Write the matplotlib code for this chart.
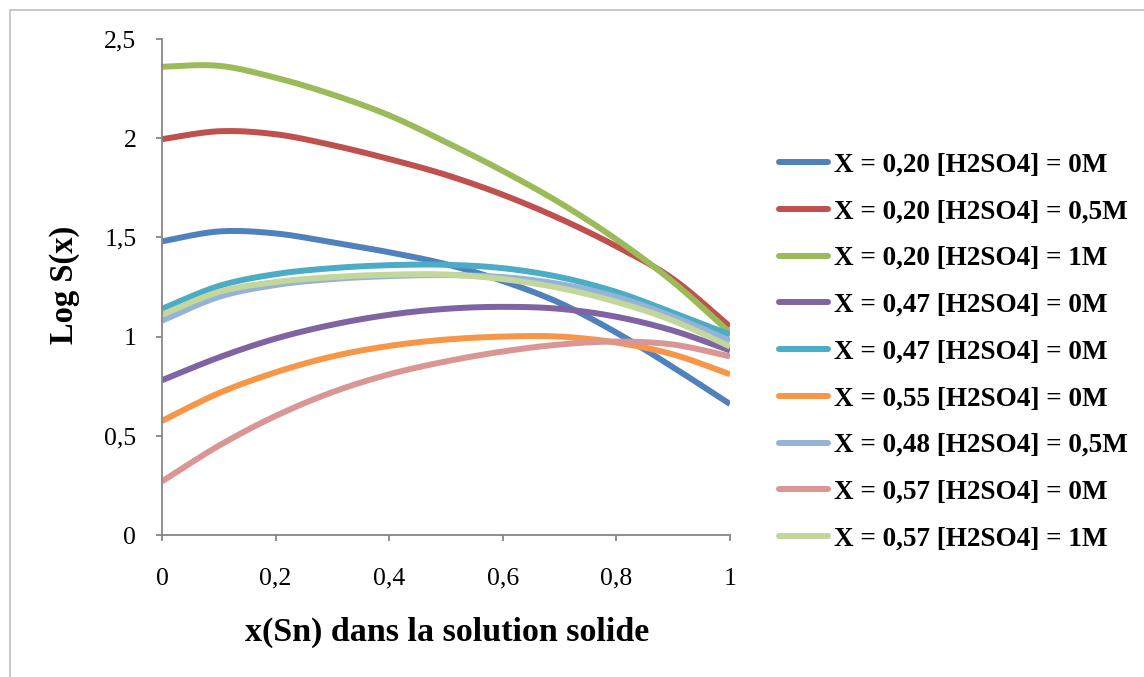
import numpy as np
import matplotlib
matplotlib.use("Agg")
import matplotlib.pyplot as plt
from matplotlib.lines import Line2D
from matplotlib.patches import Rectangle

# Tin mole fraction in the solid solution
x_sn = [0.0, 0.1, 0.2, 0.3, 0.4, 0.5, 0.6, 0.7, 0.8, 0.9, 1.0]

# Log S(x) for each composition / acid concentration
logS_020_0M = [1.48, 1.53, 1.52, 1.475, 1.425, 1.365, 1.28, 1.17, 1.02, 0.845, 0.66]
logS_020_05M = [1.995, 2.035, 2.02, 1.965, 1.895, 1.815, 1.715, 1.595, 1.455, 1.29, 1.05]
logS_020_1M = [2.36, 2.365, 2.305, 2.22, 2.115, 1.98, 1.835, 1.675, 1.49, 1.275, 1.02]
logS_047_0M_a = [0.78, 0.895, 0.99, 1.06, 1.11, 1.14, 1.15, 1.14, 1.10, 1.03, 0.93]
logS_047_0M_b = [1.14, 1.255, 1.315, 1.345, 1.36, 1.362, 1.345, 1.30, 1.225, 1.12, 1.01]
logS_055_0M = [0.575, 0.715, 0.82, 0.90, 0.953, 0.985, 1.0, 1.0, 0.97, 0.91, 0.81]
logS_048_05M = [1.08, 1.20, 1.26, 1.29, 1.305, 1.31, 1.30, 1.265, 1.20, 1.10, 0.98]
logS_057_0M = [0.27, 0.45, 0.60, 0.72, 0.81, 0.875, 0.925, 0.96, 0.975, 0.96, 0.90]
logS_057_1M = [1.11, 1.225, 1.275, 1.30, 1.312, 1.313, 1.29, 1.245, 1.175, 1.08, 0.95]

series_labels = [
    "X = 0,20 [H2SO4] = 0M",
    "X = 0,20 [H2SO4] = 0,5M",
    "X = 0,20 [H2SO4] = 1M",
    "X = 0,47 [H2SO4] = 0M",
    "X = 0,47 [H2SO4] = 0M",
    "X = 0,55 [H2SO4] = 0M",
    "X = 0,48 [H2SO4] = 0,5M",
    "X = 0,57 [H2SO4] = 0M",
    "X = 0,57 [H2SO4] = 1M",
]
series_values = [logS_020_0M, logS_020_05M, logS_020_1M, logS_047_0M_a,
                 logS_047_0M_b, logS_055_0M, logS_048_05M, logS_057_0M,
                 logS_057_1M]
series_colors = ["#4F81BD", "#C0504D", "#9BBB59", "#8064A2", "#4BACC6",
                 "#F79646", "#95B3D7", "#D99694", "#C3D69B"]

x_ticks = [0, 0.2, 0.4, 0.6, 0.8, 1.0]
x_tick_labels = ["0", "0,2", "0,4", "0,6", "0,8", "1"]
y_ticks = [0, 0.5, 1.0, 1.5, 2.0, 2.5]
y_tick_labels = ["0", "0,5", "1", "1,5", "2", "2,5"]


def smooth(xs, ys, n=30):
    """Catmull-Rom curve through the points (smoothed-line rendering)."""
    p = np.column_stack([xs, ys]).astype(float)
    p = np.vstack([p[0], p, p[-1]])
    out = []
    t = np.linspace(0, 1, n, endpoint=False)[:, None]
    for i in range(1, len(p) - 2):
        p0, p1, p2, p3 = p[i - 1], p[i], p[i + 1], p[i + 2]
        seg = 0.5 * ((2 * p1) + (-p0 + p2) * t
                     + (2 * p0 - 5 * p1 + 4 * p2 - p3) * t ** 2
                     + (-p0 + 3 * p1 - 3 * p2 + p3) * t ** 3)
        out.append(seg)
    out.append(p[-2][None, :])
    c = np.vstack(out)
    return c[:, 0], c[:, 1]


W, H = 1144, 677
fig = plt.figure(figsize=(W / 100, H / 100), dpi=100)
fig.patch.set_facecolor("white")

serif = "Liberation Serif"
axis_grey = "#868686"

# outer chart frame
fig.add_artist(Rectangle((10 / W, -0.2), 1.3, 1 - 10 / H + 0.2,
                         transform=fig.transFigure, fill=False,
                         edgecolor="#BFBFBF", linewidth=1.2))

ax = fig.add_axes([162 / W, 1 - 535 / H, (730 - 162) / W, (535 - 39) / H])
lw = 4.3
for vals, col in zip(series_values, series_colors):
    sx, sy = smooth(x_sn, vals)
    ax.plot(sx, sy, color=col, linewidth=lw, solid_capstyle="butt",
            solid_joinstyle="round")

ax.set_xlim(0, 1)
ax.set_ylim(0, 2.5)
ax.set_xticks(x_ticks)
ax.set_xticklabels(x_tick_labels, fontfamily=serif, fontsize=18.5)
ax.set_yticks(y_ticks)
ax.set_yticklabels(y_tick_labels, fontfamily=serif, fontsize=18.5)
for s in ["top", "right"]:
    ax.spines[s].set_visible(False)
for s in ["left", "bottom"]:
    ax.spines[s].set_color(axis_grey)
    ax.spines[s].set_linewidth(1.3)
ax.tick_params(axis="both", direction="out", length=4.5, width=1.3,
               color=axis_grey, labelcolor="black")
ax.tick_params(axis="x", pad=19)
ax.tick_params(axis="y", pad=14)

fig.text(65 / W, 1 - 285 / H, "Log S(x)", rotation=90, ha="center",
         va="center", fontfamily=serif, fontweight="bold", fontsize=23.5)
fig.text(447 / W, 1 - 632 / H, "x(Sn) dans la solution solide",
         ha="center", va="center", fontfamily=serif, fontweight="bold",
         fontsize=24.5)

# legend entries
row0, step = 162, 46.75
for i, (lab, col) in enumerate(zip(series_labels, series_colors)):
    yy = 1 - (row0 + i * step) / H
    fig.add_artist(Line2D([779 / W, 828 / W], [yy, yy],
                          transform=fig.transFigure, color=col,
                          linewidth=lw, solid_capstyle="round"))
    fig.text(834 / W, yy, lab, ha="left", va="center_baseline",
             fontfamily=serif, fontweight="bold", fontsize=19.5)

fig.savefig("out.png", dpi=100, facecolor="white")
